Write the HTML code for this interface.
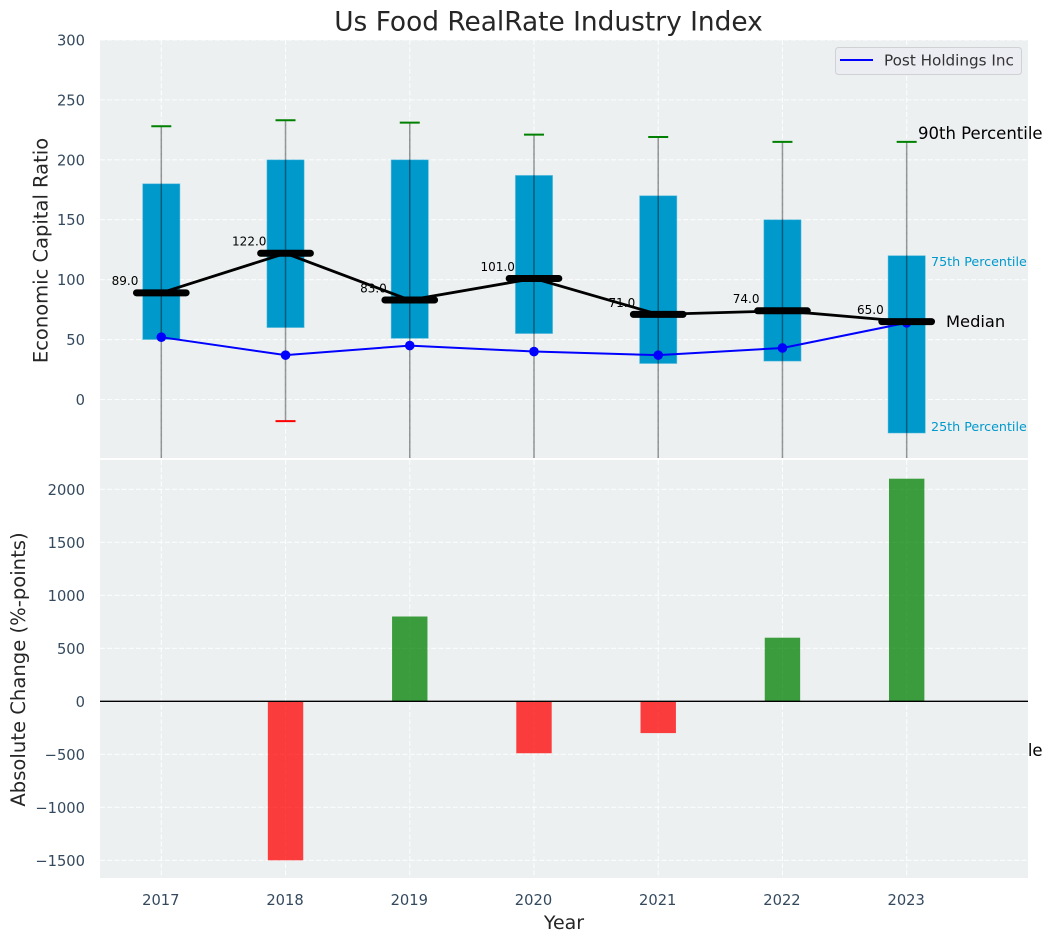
<!DOCTYPE html>
<html lang="en">
<head>
<meta charset="utf-8">
<title>Us Food RealRate Industry Index</title>
<style>
html,body{margin:0;padding:0;background:#fff;width:1053px;height:942px;overflow:hidden}
svg{display:block;font-family:"DejaVu Sans","Liberation Sans",sans-serif}
</style>
</head>
<body>
<svg id="chart" xmlns="http://www.w3.org/2000/svg" width="1053" height="942" viewBox="0 0 1053 942">
  <defs>
    <clipPath id="clip-top"><rect x="100" y="40" width="928" height="418"/></clipPath>
    <clipPath id="clip-bottom"><rect x="100" y="460" width="928" height="418"/></clipPath>
  </defs>
  <rect x="0" y="0" width="1053" height="942" fill="#ffffff"/>
  <text x="548.5" y="30.5" text-anchor="middle" font-size="26.4" fill="#262626">Us Food RealRate Industry Index</text>
  <rect x="100" y="40" width="928" height="418" fill="#ecf0f1"/>
  <g id="top-grid"></g>
  <g id="top-marks" clip-path="url(#clip-top)"></g>
  <g id="top-ticks"></g>
  <text x="918" y="139" font-size="16.5" fill="#000">90th Percentile</text>
  <text x="931" y="266" font-size="12.7" fill="#0099cc">75th Percentile</text>
  <text x="946" y="327" font-size="16.3" fill="#000">Median</text>
  <text x="931" y="431" font-size="12.7" fill="#0099cc">25th Percentile</text>
  <text x="918" y="756" font-size="16.5" fill="#000">10th Percentile</text>
  <text transform="translate(47.3,250.5) rotate(-90)" text-anchor="middle" font-size="19.5" fill="#262626">Economic Capital Ratio</text>

  <rect x="100" y="460" width="928" height="418" fill="#ecf0f1"/>
  <g id="bottom-grid"></g>
  <g id="bottom-marks" clip-path="url(#clip-bottom)"></g>
  <g id="bottom-ticks"></g>
  <g id="x-ticks"></g>
  <text x="564" y="929" text-anchor="middle" font-size="19" fill="#262626">Year</text>
  <text transform="translate(25,669.5) rotate(-90)" text-anchor="middle" font-size="19.6" fill="#262626">Absolute Change (%-points)</text>

  <g>
    <rect x="835.5" y="47.5" width="186" height="27" rx="3" ry="3" fill="#ebedf3" stroke="#cfd1d5" stroke-width="1"/>
    <line x1="840" y1="60" x2="873" y2="60" stroke="#0000ff" stroke-width="2"/>
    <text x="884" y="65.5" font-size="15.2" fill="#333333">Post Holdings Inc</text>
  </g>
</svg>
<script>
const years = [2017, 2018, 2019, 2020, 2021, 2022, 2023];
const p90 = [228, 233, 231, 221, 219, 215, 215];
const p75 = [180, 200, 200, 187, 170, 150, 120];
const median = [89, 122, 83, 101, 71, 74, 65];
const p25 = [50, 60, 51, 55, 30, 32, -28];
const p10 = [-70, -18, -65, -75, -80, -70, -85];
const company = [52, 37, 45, 40, 37, 43, 64];
const absoluteChange = [0, -1500, 800, -490, -300, 600, 2100];
const topTicks = [0, 50, 100, 150, 200, 250, 300];
const bottomTicks = [-1500, -1000, -500, 0, 500, 1000, 1500, 2000];

const NS = 'http://www.w3.org/2000/svg';
const xAt = i => 161.3 + 124.23 * i;
const xUnits = u => 124.23 * u;
const yTop = v => 399.5 - 1.1985 * v;
const yBottom = v => 701.3 - 0.106 * v;

function make(parent, tag, attrs, text) {
  const el = document.createElementNS(NS, tag);
  for (const k in attrs) el.setAttribute(k, attrs[k]);
  if (text !== undefined) el.textContent = text;
  parent.appendChild(el);
  return el;
}
const topGrid = document.getElementById('top-grid');
const topMarks = document.getElementById('top-marks');
const topTickGroup = document.getElementById('top-ticks');
const bottomGrid = document.getElementById('bottom-grid');
const bottomMarks = document.getElementById('bottom-marks');
const bottomTickGroup = document.getElementById('bottom-ticks');
const xTickGroup = document.getElementById('x-ticks');
const gridStyle = {stroke:'#ffffff','stroke-width':1.1,'stroke-dasharray':'5 2.2','stroke-opacity':0.85};
const tickColor = '#34495e';
const tickSize = 14.7;

/* grids and tick labels */
topTicks.forEach(t => {
  const line = make(topGrid, 'line', Object.assign({x1:100,x2:1028,y1:yTop(t),y2:yTop(t)}, gridStyle));
  
  
  const label = make(topTickGroup, 'text', {x:85,y:yTop(t)+5.5,'text-anchor':'end','font-size':tickSize,fill:tickColor}, String(t));
  
  
});
bottomTicks.forEach(t => {
  const line = make(bottomGrid, 'line', Object.assign({x1:100,x2:1028,y1:yBottom(t),y2:yBottom(t)}, gridStyle));
  
  
  const label = make(bottomTickGroup, 'text', {x:85,y:yBottom(t)+5.5,'text-anchor':'end','font-size':tickSize,fill:tickColor}, String(t).replace('-', '\u2212'));
  
  
});
years.forEach((yr, i) => {
  const gt = make(topGrid, 'line', Object.assign({x1:xAt(i),x2:xAt(i),y1:40,y2:458}, gridStyle));
  
  
  const gb = make(bottomGrid, 'line', Object.assign({x1:xAt(i),x2:xAt(i),y1:460,y2:878}, gridStyle));
  
  
  const label = make(xTickGroup, 'text', {x:xAt(i)-0.5,y:905,'text-anchor':'middle','font-size':tickSize,fill:tickColor}, String(yr));
  
  
});

/* percentile boxes */
years.forEach((yr, i) => {
  const w = xUnits(0.3);
  const box = make(topMarks, 'rect', {x:xAt(i)-w/2,y:yTop(p75[i]),width:w,height:yTop(p25[i])-yTop(p75[i]),fill:'#0099cc',stroke:'#66c2e0','stroke-width':0.8,'stroke-opacity':0.6});
  
  
});
/* whiskers and caps */
years.forEach((yr, i) => {
  const whisker = make(topMarks, 'line', {x1:xAt(i),x2:xAt(i),y1:yTop(p90[i]),y2:yTop(p10[i]),stroke:'#000000','stroke-width':1.5,'stroke-opacity':0.4});
  
  
  const capHigh = make(topMarks, 'line', {x1:xAt(i)-10,x2:xAt(i)+10,y1:yTop(p90[i]),y2:yTop(p90[i]),stroke:'#008000','stroke-width':2});
  
  
  const capLow = make(topMarks, 'line', {x1:xAt(i)-10,x2:xAt(i)+10,y1:yTop(p10[i]),y2:yTop(p10[i]),stroke:'#ff0000','stroke-width':2});
  
  
});
/* median value labels */
years.forEach((yr, i) => {
  const label = make(topMarks, 'text', {x:xAt(i)-36.3,y:yTop(median[i])-7.6,'text-anchor':'middle','font-size':12,fill:'#000000'}, median[i].toFixed(1));
  
  
});
/* company series */
const companyLine = make(topMarks, 'polyline', {points:company.map((v, i) => xAt(i) + ',' + yTop(v)).join(' '),fill:'none',stroke:'#0000ff','stroke-width':2});


company.forEach((v, i) => {
  const dot = make(topMarks, 'circle', {cx:xAt(i),cy:yTop(v),r:4.8,fill:'#0000ff'});
  
  
});
/* median series */
const medianLine = make(topMarks, 'polyline', {points:median.map((v, i) => xAt(i) + ',' + yTop(v)).join(' '),fill:'none',stroke:'#000000','stroke-width':2.8});


median.forEach((v, i) => {
  const half = xUnits(0.2);
  const bar = make(topMarks, 'line', {x1:xAt(i)-half,x2:xAt(i)+half,y1:yTop(v),y2:yTop(v),stroke:'#000000','stroke-width':7,'stroke-linecap':'round'});
  
  
});
/* change bars */
absoluteChange.forEach((v, i) => {
  if (v === 0) return;
  const w = xUnits(0.285);
  const up = v > 0;
  const bar = make(bottomMarks, 'rect', {x:xAt(i)-w/2,y:Math.min(yBottom(v),yBottom(0)),width:w,height:Math.abs(yBottom(v)-yBottom(0)),fill:up ? '#008000' : '#ff0000','fill-opacity':0.75});
  
  
});
const zeroLine = make(bottomMarks, 'line', {x1:100,x2:1028,y1:yBottom(0),y2:yBottom(0),stroke:'#000000','stroke-width':1.3});


</script>
</body>
</html>
